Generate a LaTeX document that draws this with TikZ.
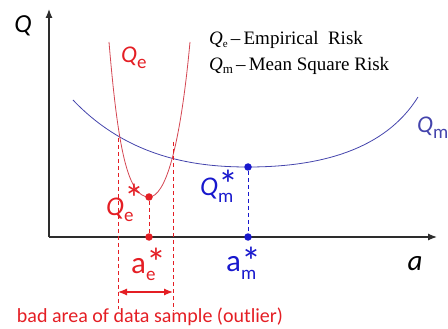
\documentclass[tikz,border=0pt]{standalone}
\usepackage{fontspec}
\setmainfont{Carlito}
\newfontfamily\legendfont{Liberation Serif}
\usetikzlibrary{arrows.meta}

\definecolor{riskred}{RGB}{228,30,36}
\definecolor{riskblue}{RGB}{24,24,205}
\definecolor{curvered}{RGB}{212,70,82}
\definecolor{curveblue}{RGB}{68,68,172}
\definecolor{axisgray}{RGB}{45,45,45}

\newcommand{\subfont}{\fontsize{19}{19}\selectfont}
\newcommand{\starfont}{\fontsize{40}{40}\selectfont}
\newcommand{\sublabel}[2]{\textit{#1}\raisebox{-0.22em}{\subfont #2}}
\newcommand{\starlabel}[3]{#1\rlap{\raisebox{-0.25em}{\subfont #2}}\smash{\raisebox{#3}{\starfont *}}}

\begin{document}
\begin{tikzpicture}[
    x=1pt, y=-1pt,
    >={Latex[length=9pt,width=7pt]}, % Set default arrow tip style
    axis/.style={axisgray, line width=1.2pt}, % Style for the axes
    dot/.style={circle, inner sep=0pt, minimum size=7.5pt}, % Style for the minimum points
    guide/.style={dash pattern=on 4pt off 3pt, line width=0.8pt}, % Style for dashed guides
    labelstyle/.style={inner sep=0pt, font=\fontsize{27}{27}\selectfont}, % Style for the labels
    legend/.style={inner sep=0pt, font=\legendfont\fontsize{19}{19}\selectfont}
]
    \useasboundingbox (0,0) rectangle (448,329);

    % --- Axes ---
    \coordinate (origin) at (49,237);
    \coordinate (xend) at (437,237);
    \coordinate (yend) at (49,9);
    \draw[axis, ->] (origin) -- (xend);
    \draw[axis, ->] (origin) -- (yend);
    \node[labelstyle, font=\fontsize{26}{26}\selectfont] (Qaxis) at (23,26) {\textit{Q}};
    \node[labelstyle, font=\fontsize{29}{29}\selectfont] (aaxis) at (415,264) {\textit{a}};

    % --- Legend ---
    \node[legend, anchor=base west] (legendE) at (209,45)
        {\textit{Q}\raisebox{-0.15em}{\fontsize{11}{11}\selectfont e}\,–\,Empirical\ \ Risk};
    \node[legend, anchor=base west] (legendM) at (209,71)
        {\textit{Q}\raisebox{-0.15em}{\fontsize{13}{13}\selectfont m}\,–\,Mean Square Risk};

    % --- Curves ---
    % Mean square risk (wide)
    \draw[curveblue, line width=0.8pt] (73,100) .. controls (130,160) and (200,167) .. (248,167)
        .. controls (320,167) and (385,150) .. (418,97);
    % Empirical risk (narrow)
    \draw[curvered, line width=0.8pt] (109,42) .. controls (118,150) and (128,197) .. (149,197)
        .. controls (165,197) and (180,150) .. (190,42);

    % --- Minimum points ---
    \node[dot, fill=riskred] (Qestar) at (149,197) {};
    \node[dot, fill=riskred] (aestar) at (149,237) {};
    \node[dot, fill=riskblue] (Qmstar) at (248,167) {};
    \node[dot, fill=riskblue] (amstar) at (248,237) {};
    \draw[guide, riskred] (Qestar) -- (aestar);
    \draw[guide, riskblue] (Qmstar) -- (amstar);

    % --- Bad area bounds ---
    \coordinate (leftTop) at (118,138);
    \coordinate (leftBot) at (118,309);
    \coordinate (rightTop) at (173,142);
    \coordinate (rightBot) at (173,311);
    \draw[guide, riskred] (leftTop) -- (leftBot);
    \draw[guide, riskred] (rightTop) -- (rightBot);
    \coordinate (arrowL) at (118,292);
    \coordinate (arrowR) at (173,292);
    \draw[riskred, line width=1.2pt, <->] (arrowL) -- (arrowR);

    % --- Labels ---
    \node[labelstyle, riskred, font=\fontsize{24}{24}\selectfont, anchor=base west] (Qelabel) at (121,63) {\sublabel{Q}{e}};
    \node[labelstyle, curveblue, font=\fontsize{24}{24}\selectfont, anchor=base west] (Qmlabel) at (417,133) {\sublabel{Q}{m}};
    \node[labelstyle, riskred, anchor=base west] (Qestarlabel) at (106,215) {\starlabel{\textit{Q}}{e}{2pt}};
    \node[labelstyle, riskblue, anchor=base west] (Qmstarlabel) at (200,196) {\starlabel{\textit{Q}}{m}{-2pt}};
    \node[labelstyle, riskred, font=\fontsize{31}{31}\selectfont, anchor=base west] (aestarlabel) at (131,273) {\starlabel{a}{e}{-3pt}};
    \node[labelstyle, riskblue, font=\fontsize{31}{31}\selectfont, anchor=base west] (amstarlabel) at (226,272) {\starlabel{a}{m}{-4pt}};

    \node[riskred, inner sep=0pt, font=\fontsize{20}{20}\selectfont, anchor=base] (badarea) at (150,322)
        {bad area of data sample (outlier)};
\end{tikzpicture}
\end{document}
